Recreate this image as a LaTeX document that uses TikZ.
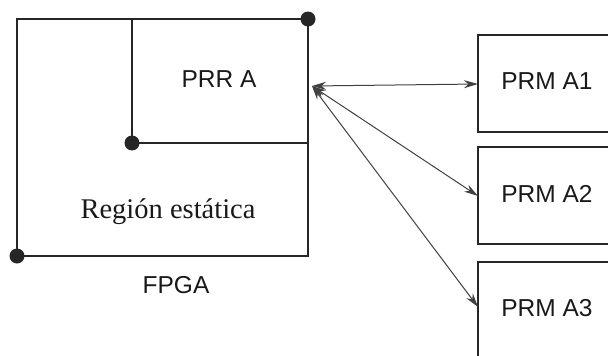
\documentclass[tikz,border=0pt]{standalone}
\usepackage{fontspec}
\setmainfont{Liberation Serif}
\setsansfont{Liberation Sans}
\usetikzlibrary{arrows.meta}
\begin{document}
\begin{tikzpicture}[x=1pt,y=-1pt,
  frame/.style={draw=black!85,line width=2.8pt},
  dotmark/.style={circle,fill=black!85,inner sep=0pt,minimum size=15pt},
  link/.style={draw=black!75,line width=1pt,{Stealth[length=14pt,width=8pt]}-{Stealth[length=14pt,width=8pt]}},
  lab/.style={font=\sffamily\fontsize{24.5}{28}\selectfont,anchor=base,text=black!90},
]
\useasboundingbox (0,0) rectangle (608,356);
% FPGA region
\coordinate (tl) at (17,19);
\coordinate (tr) at (308,19);
\coordinate (bl) at (17,256);
\coordinate (br) at (308,256);
\coordinate (it) at (132,19);
\coordinate (ic) at (132,143);
\coordinate (ir) at (308,143);
\draw[frame] (tl) -- (tr) -- (br) -- (bl) -- cycle;
\draw[frame] (it) -- (ic) -- (ir);
\node[dotmark] (d1) at (tr) {};
\node[dotmark] (d2) at (ic) {};
\node[dotmark] (d3) at (bl) {};
\node[lab] (prr) at (219,87) {PRR A};
\node[anchor=base,font=\fontsize{28.5}{32}\selectfont,text=black!90] (reg) at (168,218) {Región estática};
\node[lab] (fpga) at (176,293) {FPGA};
% PRM boxes (clipped at right)
\begin{scope}
\clip (0,0) rectangle (608,356);
\draw[frame,line width=2.6pt] (478,35) rectangle (640,132);
\draw[frame,line width=2.6pt] (478,147) rectangle (640,244);
\draw[frame,line width=2.6pt] (478,262) rectangle (640,380);
\end{scope}
\coordinate (a1) at (478,84);
\coordinate (a2) at (478,196);
\coordinate (a3) at (478,307);
\node[lab] (m1) at (547,89) {PRM A1};
\node[lab] (m2) at (547,202) {PRM A2};
\node[lab] (m3) at (547,316) {PRM A3};
\coordinate (hub) at (312,86);
\draw[link] (hub) -- (a1);
\draw[link] (hub) -- (a2);
\draw[link] (hub) -- (a3);
\end{tikzpicture}
\end{document}
